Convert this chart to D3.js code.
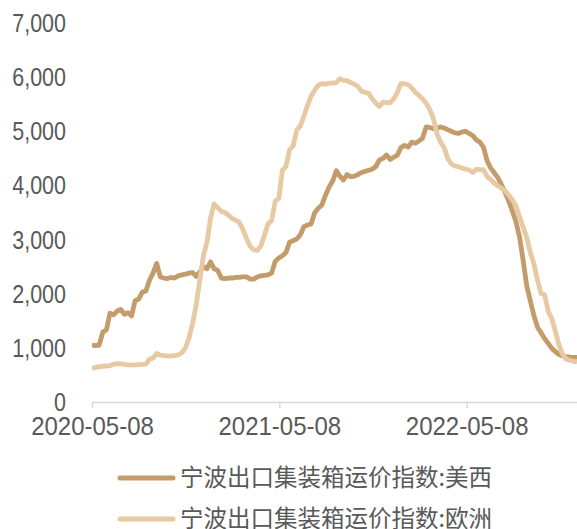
<!DOCTYPE html>
<html>
<head>
<meta charset="utf-8">
<script src="https://cdn.jsdelivr.net/npm/d3@7"></script>
<style>
  body { margin: 0; background: #fff; }
  svg { display: block; }
</style>
</head>
<body>
<svg id="chart" width="577" height="529"></svg>
<script>
// weekly index, Fridays from 2020-05-08 to 2022-12-09
const weeks = d3.timeFriday.range(new Date(2020, 4, 8), new Date(2022, 11, 10));

const seriesNames = ["宁波出口集装箱运价指数:美西", "宁波出口集装箱运价指数:欧洲"];

const usWest = [
  1050, 1040, 1050, 1290, 1330, 1640, 1610, 1680, 1710, 1620,
  1650, 1590, 1870, 1900, 2030, 2050, 2250, 2380, 2560, 2310,
  2290, 2280, 2300, 2290, 2330, 2350, 2360, 2380, 2390, 2320,
  2400, 2500, 2460, 2590, 2460, 2430, 2290, 2280, 2290, 2290,
  2300, 2300, 2310, 2310, 2270, 2270, 2310, 2330, 2340, 2350,
  2380, 2600, 2660, 2700, 2760, 2950, 2980, 3010, 3090, 3240,
  3270, 3290, 3500, 3580, 3640, 3820, 3970, 4080, 4270, 4170,
  4100, 4200, 4160, 4170, 4200, 4240, 4260, 4280, 4300, 4350,
  4470, 4500, 4560, 4480, 4520, 4560, 4700, 4740, 4710, 4800,
  4780, 4820, 4870, 5080, 5070, 5050, 5055, 5080, 5060, 5030,
  5000, 4970, 4960, 4990, 5000, 4960, 4920, 4840, 4800, 4700,
  4450, 4320, 4230, 4140, 4010, 3870, 3710, 3530, 3330, 3050,
  2620, 2150, 1870, 1600, 1380, 1280, 1170, 1080, 990, 930,
  875, 850, 838, 830, 826, 825
];

const europe = [
  620, 640, 655, 660, 665, 670, 700, 710, 705, 695,
  685, 680, 685, 690, 695, 700, 790, 810, 895, 865,
  855, 850, 850, 855, 870, 910, 1000, 1180, 1450, 1790,
  2250, 2700, 2950, 3400, 3660, 3590, 3520, 3500, 3450, 3390,
  3360, 3320, 3190, 3020, 2880, 2810, 2800, 2880, 3080, 3290,
  3350, 3710, 3760, 4280, 4350, 4660, 4730, 5020, 5100, 5280,
  5480, 5650, 5760, 5850, 5880, 5870, 5890, 5890, 5900, 5970,
  5940, 5935, 5900, 5870, 5830, 5740, 5720, 5700, 5600, 5520,
  5460, 5540, 5530, 5530, 5600, 5720, 5885, 5875, 5860, 5800,
  5720, 5660, 5600, 5520, 5400, 5240, 4960, 4800, 4700, 4500,
  4400, 4360, 4345, 4320, 4300, 4285, 4240, 4300, 4290, 4290,
  4160, 4110, 4040, 3990, 3950, 3900, 3820, 3730, 3620, 3420,
  3230, 3040, 2760, 2560, 2250, 2000, 1980, 1670, 1540, 1300,
  1050, 880, 790, 770, 750, 740
];

const yTicks = [0, 1000, 2000, 3000, 4000, 5000, 6000, 7000];
const xTicks = ["2020-05-08", "2021-05-08", "2022-05-08"];

const colors = ["#c49c6b", "#e7c9a4"];
const textColor = "#595959";
const font = "'Liberation Sans', Arial, sans-serif";

const svg = d3.select("#chart");
const plotLeft = 92, plotRight = 577, plotTop = 23, plotBottom = 402;

const x = d3.scaleTime()
  .domain([weeks[0], weeks[weeks.length - 1]])
  .range([plotLeft, plotRight]);

const y = d3.scaleLinear()
  .domain([0, 7000])
  .range([plotBottom, plotTop]);

// y labels (no axis line), narrowed a bit to match the original face
svg.append("g")
  .selectAll("text")
  .data(yTicks)
  .enter()
  .append("text")
  .attr("transform", d => `translate(66,${y(d)}) scale(0.86,1)`)
  .attr("dy", "0.36em")
  .attr("text-anchor", "end")
  .attr("fill", textColor)
  .style("font-family", font)
  .style("font-size", "25px")
  .text(d3.format(","));

// x axis
const parse = d3.timeParse("%Y-%m-%d");
const xAxis = svg.append("g")
  .attr("transform", `translate(0,${plotBottom})`)
  .call(d3.axisBottom(x)
    .tickValues(xTicks.map(parse))
    .tickFormat(d3.timeFormat("%Y-%m-%d"))
    .tickSize(6)
    .tickSizeOuter(0));
xAxis.select(".domain").attr("stroke", "#d9d9d9").attr("stroke-width", 1.5);
xAxis.selectAll(".tick line").attr("stroke", "#d9d9d9").attr("stroke-width", 1.5);
xAxis.selectAll(".tick text")
  .attr("fill", textColor)
  .attr("y", 0)
  .attr("dy", 0)
  .attr("transform", "translate(0,33) scale(0.96,1)")
  .style("font-family", font)
  .style("font-size", "25px");

const line = d3.line()
  .x((d, i) => x(weeks[i]))
  .y(d => y(d));

svg.append("defs").append("clipPath").attr("id", "clip")
  .append("rect").attr("x", plotLeft).attr("y", 0).attr("width", plotRight - plotLeft).attr("height", 529);

const plot = svg.append("g").attr("clip-path", "url(#clip)");
[usWest, europe].forEach((s, k) => {
  plot.append("path")
    .datum(s)
    .attr("fill", "none")
    .attr("stroke", colors[k])
    .attr("stroke-width", 4.8)
    .attr("stroke-linejoin", "round")
    .attr("d", line);
});

// legend
const legend = svg.append("g");
seriesNames.forEach((name, k) => {
  const ly = 478 + k * 41;
  legend.append("line")
    .attr("x1", 120).attr("x2", 173)
    .attr("y1", ly).attr("y2", ly)
    .attr("stroke", colors[k])
    .attr("stroke-width", 5)
    .attr("stroke-linecap", "round");
  legend.append("text")
    .attr("x", 180)
    .attr("y", ly)
    .attr("dy", "0.36em")
    .attr("fill", textColor)
    .style("font-family", "'Noto Sans CJK SC', sans-serif")
    .style("font-size", "23.5px")
    .text(name);
});
</script>
</body>
</html>
